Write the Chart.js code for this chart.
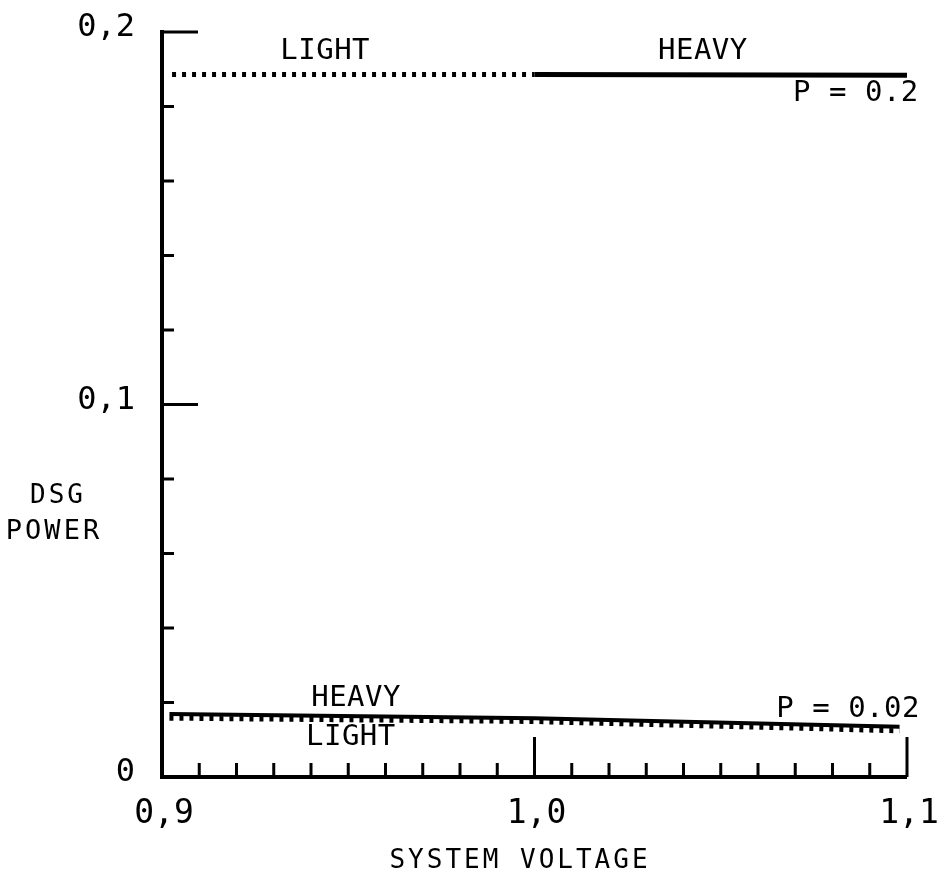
<!DOCTYPE html>
<html>
<head>
<meta charset="utf-8">
<script src="https://cdn.jsdelivr.net/npm/chart.js@4.4.1/dist/chart.umd.min.js"></script>
<style>
  html, body { margin: 0; padding: 0; background: #fff; }
  canvas { display: block; }
</style>
</head>
<body>
<canvas id="chart" width="947" height="884"></canvas>
<script>
// P = 0.2 curve: light load (dotted) up to 1.0, heavy load (solid) from 1.0
const highVoltage = [0.9027, 1.0, 1.1];
const highLight   = [0.1886, 0.1886, null];
const highHeavy   = [null, 0.1886, 0.1884];

// P = 0.02 curves, heavy drawn on top of light
const lowVoltage = [0.902, 1.0, 1.098];
const lowHeavy   = [0.0169, 0.0158, 0.0135];
const lowLight   = [0.0158, 0.0149, 0.0124];

// labelled ticks
const xMajorTicks = [0.9, 1.0, 1.1];
const xTickLabels = ['0,9', '1,0', '1,1'];
const yMajorTicks = [0, 0.1, 0.2];
const yTickLabels = ['0', '0,1', '0,2'];

// curve annotations (data units)
const noteText = ['LIGHT', 'HEAVY', 'P = 0.2', 'HEAVY', 'LIGHT', 'P = 0.02'];
const noteX    = [0.9438, 1.0452, 1.0863, 0.9521, 0.9507, 1.0842];
const noteY    = [0.1949, 0.1949, 0.1834, 0.0212, 0.0107, 0.0180];

const MONO = "'DejaVu Sans Mono', monospace";

function majorIndex(list, v) {
    return list.findIndex(t => Math.abs(t - v) < 1e-6);
}

function points(xs, ys) {
    return xs.map((x, i) => ({x: x, y: ys[i]}));
}

// keep the plot box where the padding puts it, labels may overhang
function noOverhang(scale) {
    scale.paddingTop = 0;
    scale.paddingBottom = 0;
    scale.paddingLeft = 0;
    scale.paddingRight = 0;
}

const axisFrame = {
    id: 'axisFrame',
    afterDatasetsDraw(chart) {
        const ctx = chart.ctx;
        const area = chart.chartArea;
        const x = chart.scales.x;
        const y = chart.scales.y;

        ctx.save();
        ctx.strokeStyle = '#000';
        ctx.lineWidth = 4;
        ctx.beginPath();
        ctx.moveTo(area.left, area.top - 2);
        ctx.lineTo(area.left, area.bottom);
        ctx.lineTo(area.right, area.bottom);
        ctx.stroke();

        // ticks point inwards, long ones at the labelled values
        ctx.lineWidth = 3;
        ctx.beginPath();
        x.ticks.forEach(t => {
            if (t.value <= x.min + 1e-9) return;
            const px = x.getPixelForValue(t.value);
            const len = majorIndex(xMajorTicks, t.value) >= 0 ? 40 : 14;
            ctx.moveTo(px, area.bottom);
            ctx.lineTo(px, area.bottom - len);
        });
        y.ticks.forEach(t => {
            if (t.value <= y.min + 1e-9) return;
            const py = y.getPixelForValue(t.value);
            const len = majorIndex(yMajorTicks, t.value) >= 0 ? 36 : 12;
            ctx.moveTo(area.left, py);
            ctx.lineTo(area.left + len, py);
        });
        ctx.stroke();

        ctx.fillStyle = '#000';
        ctx.textAlign = 'center';
        ctx.textBaseline = 'middle';

        // notes on the curves
        ctx.font = '29px ' + MONO;
        ctx.letterSpacing = '0.5px';
        noteText.forEach((txt, i) => {
            ctx.fillText(txt, x.getPixelForValue(noteX[i]), y.getPixelForValue(noteY[i]));
        });

        // axis titles
        ctx.font = '26px ' + MONO;
        ctx.letterSpacing = '3px';
        ctx.fillText('DSG', area.left - 104, 496);
        ctx.font = '27px ' + MONO;
        ctx.fillText('POWER', area.left - 108, 532);
        ctx.font = '26px ' + MONO;
        ctx.fillText('SYSTEM VOLTAGE', 520, 861);
        ctx.restore();
    }
};

new Chart(document.getElementById('chart'), {
    type: 'line',
    data: {
        datasets: [
            {
                label: 'P = 0.02 heavy',
                data: points(lowVoltage, lowHeavy),
                borderColor: '#000',
                borderWidth: 4,
                pointRadius: 0
            },
            {
                label: 'P = 0.02 light',
                data: points(lowVoltage, lowLight),
                borderColor: '#000',
                borderWidth: 5,
                borderDash: [4, 6],
                pointRadius: 0
            },
            {
                label: 'P = 0.2 heavy',
                data: points(highVoltage, highHeavy),
                borderColor: '#000',
                borderWidth: 5,
                pointRadius: 0
            },
            {
                label: 'P = 0.2 light',
                data: points(highVoltage, highLight),
                borderColor: '#000',
                borderWidth: 5,
                borderDash: [4, 6],
                pointRadius: 0
            }
        ]
    },
    options: {
        responsive: false,
        animation: false,
        layout: {padding: {top: 32, right: 40, left: 0, bottom: 0}},
        plugins: {
            legend: {display: false},
            tooltip: {enabled: false}
        },
        scales: {
            x: {
                type: 'linear',
                min: 0.9,
                max: 1.1,
                grid: {display: false},
                border: {display: false},
                ticks: {
                    stepSize: 0.01,
                    autoSkip: false,
                    maxRotation: 0,
                    padding: 10,
                    labelOffset: 2,
                    color: '#000',
                    font: {family: MONO, size: 33},
                    callback: function (v) {
                        const i = majorIndex(xMajorTicks, v);
                        return i >= 0 ? xTickLabels[i] : '';
                    }
                },
                afterFit: function (scale) {
                    scale.height = 107;
                    noOverhang(scale);
                }
            },
            y: {
                min: 0,
                max: 0.2,
                grid: {display: false},
                border: {display: false},
                ticks: {
                    stepSize: 0.02,
                    autoSkip: false,
                    padding: 19,
                    labelOffset: -4,
                    color: '#000',
                    font: {family: MONO, size: 32},
                    callback: function (v) {
                        const i = majorIndex(yMajorTicks, v);
                        return i >= 0 ? yTickLabels[i] : '';
                    }
                },
                afterFit: function (scale) {
                    scale.width = 162;
                    noOverhang(scale);
                }
            }
        }
    },
    plugins: [axisFrame]
});
</script>
</body>
</html>
